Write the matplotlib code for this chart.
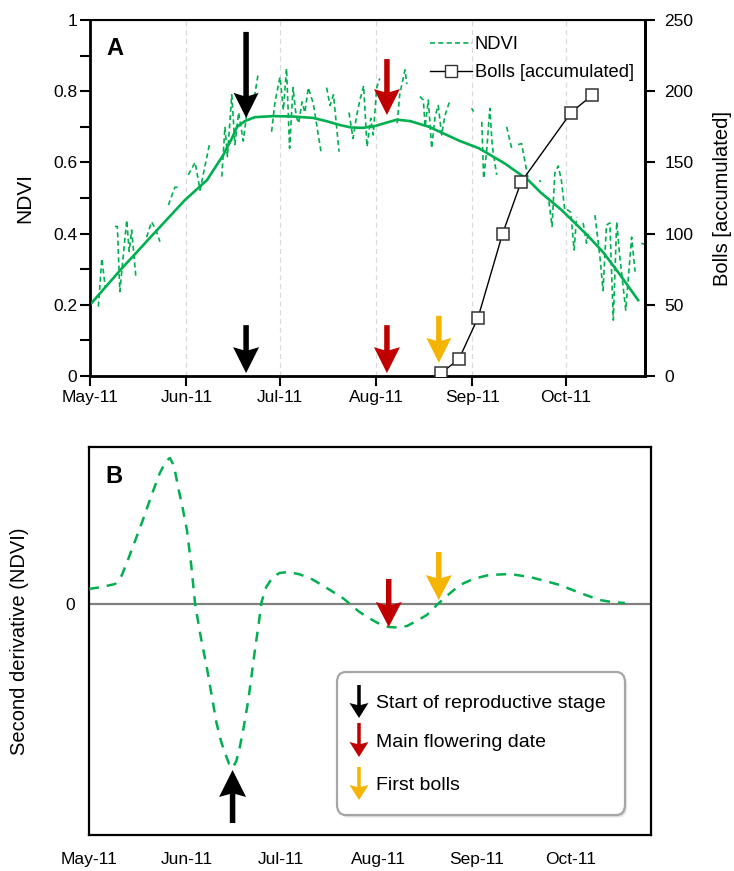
import matplotlib
matplotlib.use('Agg')
import matplotlib.pyplot as plt
import numpy as np
from matplotlib.path import Path
from matplotlib.patches import PathPatch, FancyBboxPatch
from matplotlib.lines import Line2D
import matplotlib.transforms as mtrans

plt.rcParams['font.family'] = ['Liberation Sans', 'DejaVu Sans']

# ---------------- data ----------------
month_days = [0, 31, 61, 92, 123, 153]
month_labels = ['May-11', 'Jun-11', 'Jul-11', 'Aug-11', 'Sep-11', 'Oct-11']

nan = np.nan
# daily NDVI (days since 1 May 2011); nan = gap in the record
ndvi_days = [2.7, 3.8, 4.9, 6.5,
             8.0, 8.8, 9.6, 11.8, 12.6, 13.4, 14.8, 16.5,
             18.2, 19.8, 21.2, 22.5, 24.0,
             25.2, 27.3, 28.3, 30.0,
             31.6, 33.8, 35.4, 38.4, 40.5,
             42.4, 43.4, 44.2, 45.6, 46.6, 47.8, 49.3, 50.9, 53.0, 54.1, 56.0,
             58.4, 59.5, 61.1, 62.2, 63.2, 64.2, 65.3, 66.3, 67.1, 68.2, 69.1, 70.2, 71.8, 74.3, 75.2,
             76.1, 77.2, 78.3, 80.1, 81.5,
             83.3, 84.6, 85.8, 86.8, 88.0, 89.1, 90.3, 91.1, 92.2, 93.2, 96.0,
             98.8, 99.6, 101.3, 101.9, 104.0,
             106.1, 107.2, 107.8, 108.8, 109.9, 111.0, 112.0, 113.1, 114.1, 115.8, 119.0,
             122.7, 123.4, 124.5,
             126.0, 126.6, 127.6, 128.6, 129.4, 130.8, 132.5,
             134.0, 135.6, 136.5,
             137.7, 138.8, 141.0, 142.5,
             144.5, 145.0, 146.5,
             147.6, 148.6, 149.5, 150.6, 151.6, 152.7, 153.7, 154.6, 155.7, 156.5, 157.5,
             158.6, 159.7, 160.2, 161.5,
             162.4, 164.0, 165.0, 166.1, 167.2, 168.3, 169.4, 170.4, 172.3, 174.2, 175.3, 176.3,
             177.3, 178.3]
ndvi_vals = [0.195, 0.33, 0.25, nan,
             0.42, 0.42, 0.237, 0.438, 0.35, 0.41, 0.274, nan,
             0.39, 0.433, 0.41, 0.377, nan,
             0.48, 0.53, 0.53, nan,
             0.565, 0.60, 0.522, 0.65, nan,
             0.56, 0.70, 0.616, 0.79, 0.65, 0.74, 0.66, 0.77, 0.79, 0.85, nan,
             0.686, 0.77, 0.84, 0.747, 0.864, 0.64, 0.81, 0.73, 0.71, 0.77, 0.74, 0.81, 0.766, 0.63, nan,
             0.81, 0.76, 0.79, 0.63, nan,
             0.74, 0.667, 0.733, 0.775, 0.815, 0.644, 0.724, 0.677, 0.81, 0.836, nan,
             0.71, 0.79, 0.86, 0.82, nan,
             0.785, 0.775, 0.70, 0.775, 0.64, 0.73, 0.76, 0.677, 0.73, 0.775, nan,
             0.752, 0.743, nan,
             0.714, 0.555, 0.635, 0.752, 0.644, 0.565, nan,
             0.70, 0.64, nan,
             0.65, 0.653, 0.55, nan,
             0.55, 0.545, nan,
             0.49, 0.42, 0.57, 0.59, 0.55, 0.466, 0.466, 0.46, 0.354, 0.447, nan,
             0.43, 0.373, 0.40, nan,
             0.452, 0.335, 0.24, 0.424, 0.43, 0.157, 0.433, 0.335, 0.185, 0.39, 0.293, nan,
             0.373, 0.37]

# smoothed NDVI
smooth_days = [0.5, 10, 20, 30.5, 37.6, 42.8, 45.5, 47.3, 49.8, 53, 58.8, 65, 71.7, 76, 80.4,
               84, 87.8, 92, 95.5, 98.7, 103, 109, 119, 125, 133.4, 141, 145, 151.7, 155,
               160, 165, 170, 176.3]
smooth_vals = [0.205, 0.30, 0.395, 0.494, 0.55, 0.62, 0.665, 0.70, 0.716, 0.727, 0.73, 0.729,
               0.725, 0.716, 0.705, 0.698, 0.697, 0.703, 0.712, 0.72, 0.716, 0.70, 0.66, 0.64,
               0.597, 0.55, 0.515, 0.466, 0.438, 0.395, 0.348, 0.29, 0.213]

# accumulated bolls
boll_days = [112.9, 118.7, 124.8, 132.7, 138.6, 154.7, 161.4]
boll_vals = [2, 12, 41, 100, 136, 185, 197]

# second derivative of NDVI (arbitrary units)
d2_days = [0, 4, 8.3, 10.3, 12, 14.5, 17.1, 20, 22.5, 24.5, 25.7, 27, 28.3, 29.8, 31.1, 32.5,
           33.7, 35.5, 37.4, 39, 40.5, 42, 43.2, 44.5, 45.6, 46.8, 47.9, 49.2, 50.6, 51.7,
           52.7, 53.8, 54.8, 56.3, 58.4, 60.5, 63.2, 66.5, 70.2, 75, 80.6, 82.9, 85.5, 88.3,
           91.7, 95.2, 98, 101, 104, 107.3, 110.8, 114, 117.8, 122, 127, 133.7, 140, 145,
           149.5, 156, 162.2, 166, 170.2]
d2_vals = [15, 17, 20, 28, 41, 62, 84, 110, 131, 143, 146, 138, 117, 95, 74, 38,
           0, -33, -63, -92, -119, -138, -149, -160, -164, -157, -143, -122, -96, -70,
           -46, -22, 2, 17, 27, 31, 32, 30, 26, 17, 6, 0, -7, -13,
           -19, -23, -23.5, -22, -17, -11, 0, 9, 19, 25, 29, 30, 27, 23,
           19, 11, 4, 2, 1]

# event dates (days since 1 May)
start_day_a, flower_day_a, bolls_day_a = 50.2, 95.5, 112.2
start_day_b, flower_day_b, bolls_day_b = 45.6, 95.2, 111.1

GREEN = '#00B050'
RED = '#C00000'
ORANGE = '#F5B400'

# ---------------- figure ----------------
fig = plt.figure(figsize=(7.34, 8.71), dpi=100)
W, H = 734, 871


def axpos(l, t, r, b):
    return [l / W, 1 - b / H, (r - l) / W, (b - t) / H]


ax = fig.add_axes(axpos(90, 20, 645, 376))
ax2 = ax.twinx()
axb = fig.add_axes(axpos(89, 447, 651, 835))


def arrow(axis, x, y, color, total, hl, hw, sw, up=False, notch=3):
    d = -1 if up else 1
    verts = [(0, 0), (hw / 2, d * hl), (sw / 2, d * (hl - notch)), (sw / 2, d * total),
             (-sw / 2, d * total), (-sw / 2, d * (hl - notch)), (-hw / 2, d * hl), (0, 0)]
    codes = [Path.MOVETO] + [Path.LINETO] * 6 + [Path.CLOSEPOLY]
    tr = mtrans.Affine2D().scale(fig.dpi / 100) + mtrans.ScaledTranslation(x, y, axis.transData)
    p = PathPatch(Path(verts, codes), facecolor=color, edgecolor='none', transform=tr,
                  clip_on=False, zorder=6)
    axis.add_patch(p)


# ----- panel A -----
for m in month_days[1:]:
    ax.axvline(m, color='#D9D9D9', lw=0.9, ls=(0, (4, 3)), zorder=0)
ax.plot(ndvi_days, ndvi_vals, color=GREEN, lw=1.2, ls=(0, (3, 2)), zorder=2)
ax.plot(smooth_days, smooth_vals, color=GREEN, lw=1.9, zorder=3)
ax.set_xlim(0, 178.5)
ax.set_ylim(0, 1)
ax.set_yticks([0, 0.2, 0.4, 0.6, 0.8, 1.0])
ax.set_yticklabels(['0', '0.2', '0.4', '0.6', '0.8', '1'])
ax.set_yticks(np.arange(0.1, 1.0, 0.2), minor=True)
ax.set_xticks(month_days)
ax.set_xticklabels(month_labels)
ax.tick_params(axis='both', direction='out', length=7, width=1.5, labelsize=12.5, pad=3)
ax.tick_params(axis='y', pad=2)
ax.tick_params(axis='y', which='minor', direction='out', length=7, width=1.5)
ax.set_ylabel('NDVI', fontsize=15, labelpad=14)
for s in ['left', 'bottom', 'right']:
    ax.spines[s].set_linewidth(2)
ax.spines['top'].set_linewidth(1.5)

ax2.plot(boll_days, boll_vals, color='black', lw=1.0, marker='s', ms=9, mfc='white',
         mec='#333333', mew=1.1, zorder=4)
ax2.set_ylim(0, 250)
ax2.set_yticks([0, 50, 100, 150, 200, 250])
ax2.tick_params(axis='y', direction='out', length=7, width=1.5, labelsize=12.5, pad=7)
ax2.set_ylabel('Bolls [accumulated]', fontsize=14.5, labelpad=14)
ax2.spines['right'].set_linewidth(2)

ax.text(0.045, 0.92, 'A', transform=ax.transAxes, fontsize=17, fontweight='bold',
        va='center', ha='center')

h1 = Line2D([], [], color=GREEN, lw=1.2, ls=(0, (3, 2)))
h2 = Line2D([], [], color='black', lw=1.0, marker='s', ms=9, mfc='white', mec='#333333')
leg = ax.legend([h1, h2], ['NDVI', 'Bolls [accumulated]'], loc='upper right',
                bbox_to_anchor=(1.003, 0.99), frameon=False, fontsize=13.2,
                handlelength=2.3, handletextpad=0.15, labelspacing=0.6, borderaxespad=0.3)
leg.set_zorder(10)

# arrows panel A
arrow(ax, start_day_a, 0.725, 'black', 86, 25, 25, 5.5)
arrow(ax, flower_day_a, 0.733, RED, 56, 26, 26, 5.5)
arrow(ax, start_day_a, 0.008, 'black', 48, 26, 26, 5.5)
arrow(ax, flower_day_a, 0.008, RED, 48, 26, 26, 5.5)
arrow(ax, bolls_day_a, 0.037, ORANGE, 47, 25, 25, 5.5)

# ----- panel B -----
axb.axhline(0, color='#808080', lw=1.6, zorder=1)
axb.plot(d2_days, d2_vals, color=GREEN, lw=1.8, ls=(0, (4, 3.2)), zorder=3)
axb.set_xlim(0, 178.5)
axb.set_ylim(-231, 157)
axb.set_yticks([0])
axb.set_yticklabels(['0'])
axb.set_xticks(month_days)
axb.set_xticklabels(month_labels)
axb.tick_params(axis='both', length=0, labelsize=12.5)
axb.tick_params(axis='x', pad=12)
axb.tick_params(axis='y', pad=10)
axb.set_ylabel('Second derivative (NDVI)', fontsize=14.5, labelpad=26)
for s in axb.spines.values():
    s.set_linewidth(1.6)
axb.text(0.045, 0.925, 'B', transform=axb.transAxes, fontsize=17, fontweight='bold',
         va='center', ha='center')

arrow(axb, start_day_b, -166, 'black', 53, 27, 27, 5.5, up=True)
arrow(axb, flower_day_b, -23, RED, 48, 25, 26, 5.5)
arrow(axb, bolls_day_b, 4, ORANGE, 48, 25, 26, 5.5)


# legend box panel B (figure pixel coordinates)
def fx(px):
    return px / W


def fy(py):
    return 1 - py / H


for k, a in [(5, 0.08), (3.5, 0.12), (2, 0.18)]:
    sh = FancyBboxPatch((fx(337 + k * 0.5), fy(815 + k * 0.6)), fx(288), (815 - 672) / H,
                        boxstyle='round,pad=0,rounding_size=0.012', transform=fig.transFigure,
                        facecolor='#808080', edgecolor='none', alpha=a, zorder=7)
    fig.add_artist(sh)
box = FancyBboxPatch((fx(337), fy(815)), fx(288), (815 - 672) / H,
                     boxstyle='round,pad=0,rounding_size=0.012', transform=fig.transFigure,
                     facecolor='white', edgecolor='#A6A6A6', lw=1.6, zorder=8)
fig.add_artist(box)

leg_items = [('Start of reproductive stage', 'black', 685, 718),
             ('Main flowering date', RED, 723, 757),
             ('First bolls', ORANGE, 767, 800)]
for label, col, ytop, ytip in leg_items:
    total = ytip - ytop
    hl, hw, sw, notch = 15, 19, 3.5, 2
    verts = [(0, 0), (hw / 2, hl), (sw / 2, hl - notch), (sw / 2, total),
             (-sw / 2, total), (-sw / 2, hl - notch), (-hw / 2, hl), (0, 0)]
    codes = [Path.MOVETO] + [Path.LINETO] * 6 + [Path.CLOSEPOLY]
    tr = mtrans.Affine2D().scale(fig.dpi / 100) + mtrans.ScaledTranslation(
        fx(359), fy(ytip), fig.transFigure)
    fig.add_artist(PathPatch(Path(verts, codes), facecolor=col, edgecolor='none',
                             transform=tr, zorder=9))
    fig.text(fx(376), fy((ytop + ytip) / 2 + 2), label, fontsize=14, va='center',
             ha='left', zorder=9)

fig.savefig('out.png', dpi=100)
